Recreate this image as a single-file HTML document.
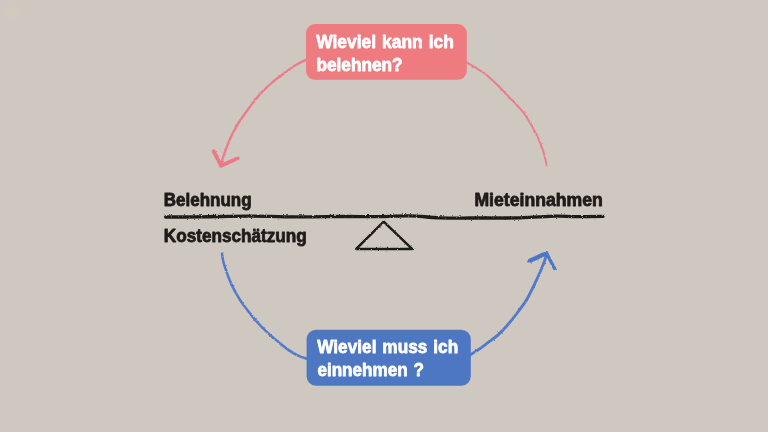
<!DOCTYPE html>
<html lang="de">
<head>
<meta charset="utf-8">
<title>Belehnung und Mieteinnahmen</title>
<style>
html,body{margin:0;padding:0;background:#cfc8c0;}
body{width:768px;height:432px;overflow:hidden;position:relative;font-family:"Liberation Sans",sans-serif;}
svg{position:absolute;left:0;top:0;display:block;}
text{font-family:"Liberation Sans",sans-serif;font-weight:bold;}
.dark{fill:#1f1b18;stroke:#1f1b18;stroke-width:0.8;stroke-linejoin:round;}
.white{fill:#fff;stroke:#fff;stroke-width:0.75;stroke-linejoin:round;}
</style>
</head>
<body>
<svg width="768" height="432" viewBox="0 0 768 432">
  <defs>
    <filter id="pencil" x="-2%" y="-400%" width="104%" height="900%">
      <feTurbulence type="fractalNoise" baseFrequency="0.55 0.9" numOctaves="2" seed="4" result="n"/>
      <feDisplacementMap in="SourceGraphic" in2="n" scale="2.6" xChannelSelector="R" yChannelSelector="G" result="d"/>
      <feTurbulence type="fractalNoise" baseFrequency="0.8" numOctaves="1" seed="11" result="g"/>
      <feColorMatrix in="g" type="matrix" values="0 0 0 0 0  0 0 0 0 0  0 0 0 0 0  0 0 0 -4 3.7" result="gm"/>
      <feComposite in="d" in2="gm" operator="in"/>
    </filter>
    <filter id="crayon" x="-10%" y="-10%" width="120%" height="120%">
      <feTurbulence type="fractalNoise" baseFrequency="0.45" numOctaves="2" seed="9" result="n"/>
      <feDisplacementMap in="SourceGraphic" in2="n" scale="2.2" xChannelSelector="R" yChannelSelector="G" result="d"/>
      <feTurbulence type="fractalNoise" baseFrequency="0.9" numOctaves="1" seed="5" result="g"/>
      <feColorMatrix in="g" type="matrix" values="0 0 0 0 0  0 0 0 0 0  0 0 0 0 0  0 0 0 -4 3.7" result="gm"/>
      <feComposite in="d" in2="gm" operator="in"/>
    </filter>
    <filter id="soft" x="-30%" y="-30%" width="160%" height="160%"><feGaussianBlur stdDeviation="0.8"/></filter>
  </defs>
  <rect width="768" height="432" fill="#cfc8c0"/>
  <path d="M9 8 H15 V10 H20 V16 H13 V19 H10 V16 H7 V10 H9 Z" fill="#d6cdb8" opacity="0.45" filter="url(#soft)"/>

  <!-- red arrow: Mieteinnahmen -> Belehnung -->
  <g fill="none" stroke="#ee7687" stroke-linecap="round" stroke-linejoin="round" filter="url(#crayon)">
    <path d="M546.4 165.2 C546.3 164.6 546.3 163.4 545.9 161.4 C545.5 159.4 544.7 156.1 543.8 153.1 C542.9 150.1 541.7 146.6 540.4 143.3 C539.1 140.1 537.5 136.8 535.9 133.6 C534.3 130.3 532.5 127.0 530.6 123.8 C528.7 120.6 526.6 117.0 524.6 114.2 C522.6 111.4 521.1 109.8 518.6 107.0 C516.1 104.2 512.6 100.7 509.6 97.6 C506.6 94.5 503.6 91.3 500.6 88.3 C497.6 85.3 494.4 82.1 491.6 79.6 C488.9 77.0 486.9 75.0 484.1 73.0 C481.3 71.0 478.0 69.2 475.0 67.4 C472.0 65.6 467.5 63.0 466.0 62.1" stroke-width="2.0" opacity="0.92"/>
    <path d="M307.0 59.3 C305.4 60.1 300.8 62.1 297.1 64.3 C293.5 66.5 289.1 69.7 285.1 72.6 C281.1 75.5 276.9 78.5 273.1 81.6 C269.4 84.7 265.9 88.0 262.6 91.4 C259.3 94.8 256.3 98.4 253.5 101.9 C250.7 105.4 248.4 109.0 246.0 112.3 C243.6 115.6 241.4 118.4 239.1 122.0 C236.8 125.6 234.3 130.0 232.3 134.0 C230.3 138.0 228.7 142.1 227.1 146.1 C225.5 150.1 223.8 154.9 222.8 158.1 C221.8 161.3 221.5 164.3 221.2 165.5" stroke-width="2.4" opacity="0.92"/>
    <path d="M213.6 151.2 L221.1 165.8 L237.8 158.2" stroke-width="3.8"/>
  </g>
  <!-- blue arrow: Kostenschaetzung -> Mieteinnahmen -->
  <g fill="none" stroke="#4c76c8" stroke-linecap="round" stroke-linejoin="round" filter="url(#crayon)">
    <path d="M222.0 253.7 C222.2 255.0 222.6 258.7 223.3 261.5 C224.0 264.3 225.1 267.7 226.1 270.6 C227.1 273.5 228.0 276.1 229.1 278.8 C230.2 281.6 231.4 284.3 232.8 287.1 C234.2 289.9 235.8 292.8 237.3 295.4 C238.8 297.9 239.8 299.8 241.6 302.4 C243.4 305.0 245.6 307.8 248.3 311.2 C251.0 314.6 254.3 319.0 257.6 322.6 C260.9 326.2 264.6 329.9 268.1 333.1 C271.6 336.4 275.1 339.2 278.6 342.1 C282.1 345.0 285.8 348.1 289.1 350.4 C292.4 352.6 295.1 354.2 298.2 355.6 C301.3 357.0 305.9 358.4 307.5 359.0" stroke-width="2.5" opacity="0.95"/>
    <path d="M470.0 354.9 C471.6 353.9 476.4 351.0 479.5 348.9 C482.6 346.8 485.6 344.4 488.6 342.1 C491.6 339.8 494.9 337.7 497.6 335.3 C500.4 332.9 502.6 330.6 505.1 327.8 C507.6 325.1 510.1 321.9 512.6 318.8 C515.1 315.7 517.7 312.4 520.2 309.0 C522.7 305.6 525.0 302.5 527.4 298.4 C529.8 294.2 532.5 288.4 534.6 284.1 C536.7 279.8 538.2 276.6 539.8 272.8 C541.4 269.0 543.3 264.6 544.4 261.5 C545.5 258.4 545.9 255.7 546.2 254.5" stroke-width="2.9" opacity="0.95"/>
    <path d="M530 260.8 L546.2 253.2" stroke-width="4.3"/>
    <path d="M546.4 253 L554.6 268.6" stroke-width="3.3"/>
  </g>

  <!-- question boxes -->
  <rect x="306" y="24" width="160.8" height="55.8" rx="9" fill="#ee7b80"/>
  <rect x="306.6" y="329.8" width="164.2" height="56" rx="9.5" fill="#4e77c3"/>

  <!-- balance beam -->
  <path d="M165.6 217.0 C171.3 217.0 185.9 217.0 200.0 216.8 C214.1 216.7 233.3 216.1 250.0 216.1 C266.7 216.1 285.0 216.8 300.0 216.9 C315.0 217.0 326.7 216.6 340.0 216.5 C353.3 216.4 368.3 216.7 380.0 216.6 C391.7 216.5 400.0 215.6 410.0 215.8 C420.0 216.0 428.3 217.4 440.0 217.8 C451.7 218.2 466.7 218.0 480.0 218.0 C493.3 218.0 507.5 218.1 520.0 217.8 C532.5 217.5 545.8 216.4 555.0 216.2 C564.2 216.0 567.0 216.6 575.0 216.6 C583.0 216.6 598.3 216.4 603.0 216.4" fill="none" stroke="#1f1b18" stroke-width="3.3" stroke-linecap="round" filter="url(#pencil)"/>
  <!-- fulcrum -->
  <path d="M383.7 221.7 L356.3 248.9 L412 248.9 Z" fill="none" stroke="#1f1b18" stroke-width="2.5" stroke-linejoin="round" filter="url(#crayon)"/>

  <!-- labels -->
  <text class="dark" transform="translate(163.8 205.9) scale(2.0 1)" x="0" y="0" font-size="17.6" textLength="43.90" lengthAdjust="spacingAndGlyphs" word-spacing="1.2">Belehnung</text>
  <text class="dark" transform="translate(163.8 242.2) scale(2.0 1)" x="0" y="0" font-size="17.6" textLength="71.50" lengthAdjust="spacingAndGlyphs" word-spacing="1.2">Kostenschätzung</text>
  <text class="dark" transform="translate(474.4 205.9) scale(2.0 1)" x="0" y="0" font-size="17.6" textLength="64.20" lengthAdjust="spacingAndGlyphs" word-spacing="1.2">Mieteinnahmen</text>
  <text class="white" transform="translate(316.2 47.5) scale(2.0 1)" x="0" y="0" font-size="17.9" textLength="68.80" lengthAdjust="spacingAndGlyphs" word-spacing="1.2">Wieviel kann ich</text>
  <text class="white" transform="translate(316.4 70.7) scale(2.0 1)" x="0" y="0" font-size="17.9" textLength="43.10" lengthAdjust="spacingAndGlyphs" word-spacing="1.2">belehnen?</text>
  <text class="white" transform="translate(317.2 353.0) scale(2.0 1)" x="0" y="0" font-size="17.9" textLength="70.50" lengthAdjust="spacingAndGlyphs" word-spacing="1.2">Wieviel muss ich</text>
  <text class="white" transform="translate(317.4 376.3) scale(2.0 1)" x="0" y="0" font-size="17.9" textLength="53.30" lengthAdjust="spacingAndGlyphs" word-spacing="1.2">einnehmen ?</text>
</svg>
</body>
</html>
